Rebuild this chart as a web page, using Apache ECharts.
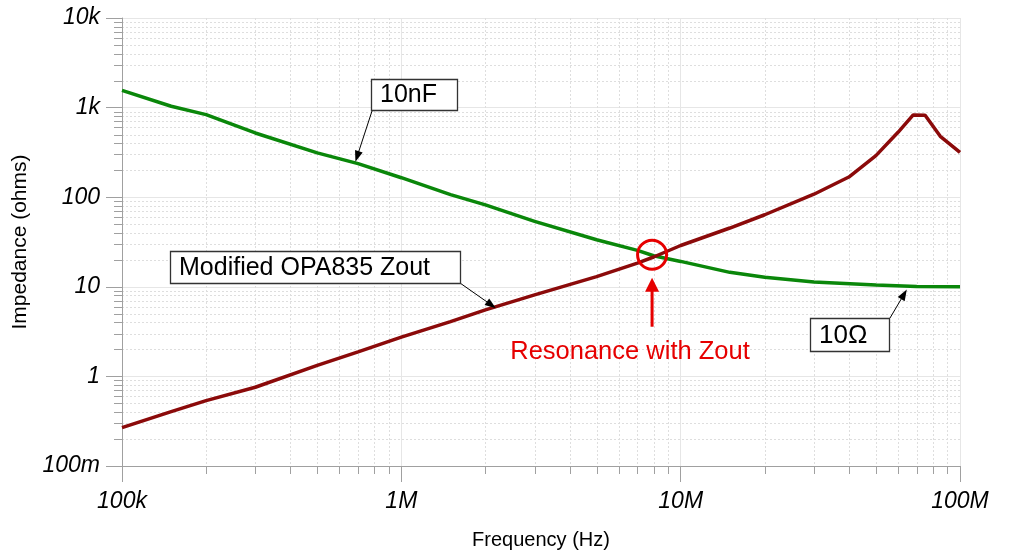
<!DOCTYPE html>
<html><head><meta charset="utf-8">
<script src="https://cdn.jsdelivr.net/npm/echarts@6/dist/echarts.min.js"></script>
<style>html,body{margin:0;padding:0;background:#fff}#c{width:1010px;height:552px}</style>
</head><body><div id="c"></div>
<script>
// 10nF (with 10 ohm) branch
const capFreq = [1e5,1.5e5,2e5,3e5,5e5,7e5,1e6,1.5e6,2e6,3e6,5e6,7e6,8e6,1e7,1.5e7,2e7,3e7,5e7,7e7,1e8];
const capZ    = [1560,1035,835,521,312,237,165,107,82,53.7,33.5,25.5,22.2,19.2,14.5,12.8,11.3,10.5,10.1,10.0];
// Modified OPA835 Zout
const zoutFreq = [1e5,1.5e5,2e5,3e5,5e5,7e5,1e6,1.5e6,2e6,3e6,5e6,7e6,8e6,1e7,1.5e7,2e7,3e7,4e7,5e7,6e7,6.8e7,7.5e7,8.5e7,1e8];
const zoutZ    = [0.268,0.404,0.537,0.757,1.33,1.88,2.74,4.09,5.53,8.14,13.0,18.4,21.5,28.9,45.3,63.7,108,168,291,530,829,820,478,317];

const xTickValues = [1e5,1e6,1e7,1e8];
const xTickLabels = ['100k','1M','10M','100M'];
const yTickValues = [0.1,1,10,100,1000,10000];
const yTickLabels = ['100m','1','10','100','1k','10k'];
const minorMult = [2,3,4,5,6,7,8,9];

const X_MIN = xTickValues[0], X_MAX = xTickValues[xTickValues.length-1];
const Y_MIN = yTickValues[0], Y_MAX = yTickValues[yTickValues.length-1];
const xMinor = [], yMinor = [];
xTickValues.slice(0,-1).forEach(d=>minorMult.forEach(m=>xMinor.push(d*m)));
yTickValues.slice(0,-1).forEach(d=>minorMult.forEach(m=>yMinor.push(d*m)));

function lookup(vals, labels, v){
  const e = Math.round(Math.log10(v));
  for (let i=0;i<vals.length;i++) if (Math.round(Math.log10(vals[i]))===e) return labels[i];
  return '';
}
const FONT = '"Liberation Sans", Arial, sans-serif';
const GRID_MINOR = '#dedede', GRID_MAJOR = '#e6e6e6', AXIS = '#a0a0a0';
const crisp = v => Math.round(v) + 0.5;

const chart = echarts.init(document.getElementById('c'), null, {renderer:'canvas'});
chart.setOption({
  animation:false,
  backgroundColor:'#fff',
  grid:{left:122,right:50,top:18,bottom:86,containLabel:false,outerBoundsMode:'none'},
  xAxis:{
    type:'log', logBase:10, min:X_MIN, max:X_MAX, splitNumber:3,
    name:'Frequency (Hz)', nameLocation:'middle', nameGap:64,
    nameTextStyle:{fontFamily:FONT,fontSize:20,color:'#000'},
    axisLine:{lineStyle:{color:AXIS,width:1}},
    axisTick:{show:true,length:16,lineStyle:{color:AXIS}},
    axisLabel:{margin:24,fontFamily:FONT,fontSize:23,fontStyle:'italic',color:'#000',
      formatter:v=>lookup(xTickValues,xTickLabels,v)},
    splitLine:{show:true,lineStyle:{color:GRID_MAJOR,width:1}}
  },
  yAxis:{
    type:'log', logBase:10, min:Y_MIN, max:Y_MAX, splitNumber:5,
    name:'Impedance (ohms)', nameLocation:'middle', nameGap:91,
    nameTextStyle:{fontFamily:FONT,fontSize:21,color:'#000'},
    axisLine:{show:true,lineStyle:{color:AXIS,width:1}},
    axisTick:{show:true,length:16,lineStyle:{color:AXIS}},
    axisLabel:{margin:22,fontFamily:FONT,fontSize:23,fontStyle:'italic',color:'#000',
      formatter:v=>lookup(yTickValues,yTickLabels,v)},
    splitLine:{show:true,lineStyle:{color:GRID_MAJOR,width:1}}
  },
  series:[
    {type:'custom', z:0, silent:true, clip:false,
     data:xMinor.map(v=>[v,Y_MIN]),
     encode:{x:0,y:1},
     renderItem:(p,api)=>{
       const v=api.value(0);
       const b=api.coord([v,Y_MIN]), t=api.coord([v,Y_MAX]);
       const x=crisp(b[0]);
       return {type:'group',children:[
         {type:'line',shape:{x1:x,y1:t[1],x2:x,y2:b[1]},style:{stroke:GRID_MINOR,lineWidth:1,lineDash:[2,2]}},
         {type:'line',shape:{x1:x,y1:b[1],x2:x,y2:b[1]+8},style:{stroke:AXIS,lineWidth:1}}
       ]};
     }},
    {type:'custom', z:0, silent:true, clip:false,
     data:yMinor.map(v=>[X_MIN,v]),
     encode:{x:0,y:1},
     renderItem:(p,api)=>{
       const v=api.value(1);
       const l=api.coord([X_MIN,v]), r=api.coord([X_MAX,v]);
       const y=crisp(l[1]);
       return {type:'group',children:[
         {type:'line',shape:{x1:l[0],y1:y,x2:r[0],y2:y},style:{stroke:GRID_MINOR,lineWidth:1,lineDash:[2,2]}},
         {type:'line',shape:{x1:l[0]-8,y1:y,x2:l[0],y2:y},style:{stroke:AXIS,lineWidth:1}}
       ]};
     }},
    {name:'10nF', type:'line', z:3, showSymbol:false, smooth:false,
     data:capFreq.map((f,i)=>[f,capZ[i]]),
     lineStyle:{color:'#0a870a',width:3.5}, itemStyle:{color:'#0a870a'}},
    {name:'Modified OPA835 Zout', type:'line', z:3, showSymbol:false, smooth:false,
     data:zoutFreq.map((f,i)=>[f,zoutZ[i]]),
     lineStyle:{color:'#8b0a0a',width:3.5}, itemStyle:{color:'#8b0a0a'}}
  ]
});

const toPx = (x,y)=>chart.convertToPixel({gridIndex:0},[x,y]);
function arrow(p0,p1,color,w,hl,hw){
  const dx=p1[0]-p0[0], dy=p1[1]-p0[1], L=Math.hypot(dx,dy), ux=dx/L, uy=dy/L;
  const bx=p1[0]-ux*hl, by=p1[1]-uy*hl;
  return [
    {type:'line',z:10,shape:{x1:p0[0],y1:p0[1],x2:bx+ux*1,y2:by+uy*1},style:{stroke:color,lineWidth:w}},
    {type:'polygon',z:10,shape:{points:[[p1[0],p1[1]],[bx-uy*hw,by+ux*hw],[bx+uy*hw,by-ux*hw]]},style:{fill:color}}
  ];
}
function box(x,y,w,h,text,fs){
  return [
    {type:'rect',z:10,shape:{x:x+0.5,y:y+0.5,width:w,height:h},style:{fill:'#fff',stroke:'#333',lineWidth:1.3}},
    {type:'text',z:11,style:{text:text,x:x+9,y:y+h/2+1,font:fs+'px '+FONT,fill:'#000',verticalAlign:'middle'}}
  ];
}
const g = [];
// 10nF label
g.push(...arrow([372,111], toPx(6.85e5,249), '#000', 1, 11, 4));
g.push(...box(371,79,86,31,'10nF',25));
// Zout label
g.push(...arrow([460,283], toPx(2.18e6,5.78), '#000', 1, 11, 4));
g.push(...box(170,251,290,32,'Modified OPA835 Zout',25));
// 10 ohm label
g.push(...arrow([890,318], toPx(6.45e7,9.3), '#000', 1, 11, 4));
g.push(...box(810,318,79,33,'10\u03A9',26));
// resonance marker
const c = toPx(7.9e6,22.8);
g.push({type:'circle',z:12,shape:{cx:c[0],cy:c[1],r:14.5},style:{fill:'none',stroke:'#e60000',lineWidth:3}});
g.push(...arrow([c[0],c[1]+72],[c[0],c[1]+23],'#e60000',3,14,7).map(e=>Object.assign(e,{z:12})));
g.push({type:'text',z:12,style:{text:'Resonance with Zout',x:630,y:352,font:'25.5px '+FONT,fill:'#e60000',align:'center',verticalAlign:'middle'}});
chart.setOption({graphic:g});
</script></body></html>
